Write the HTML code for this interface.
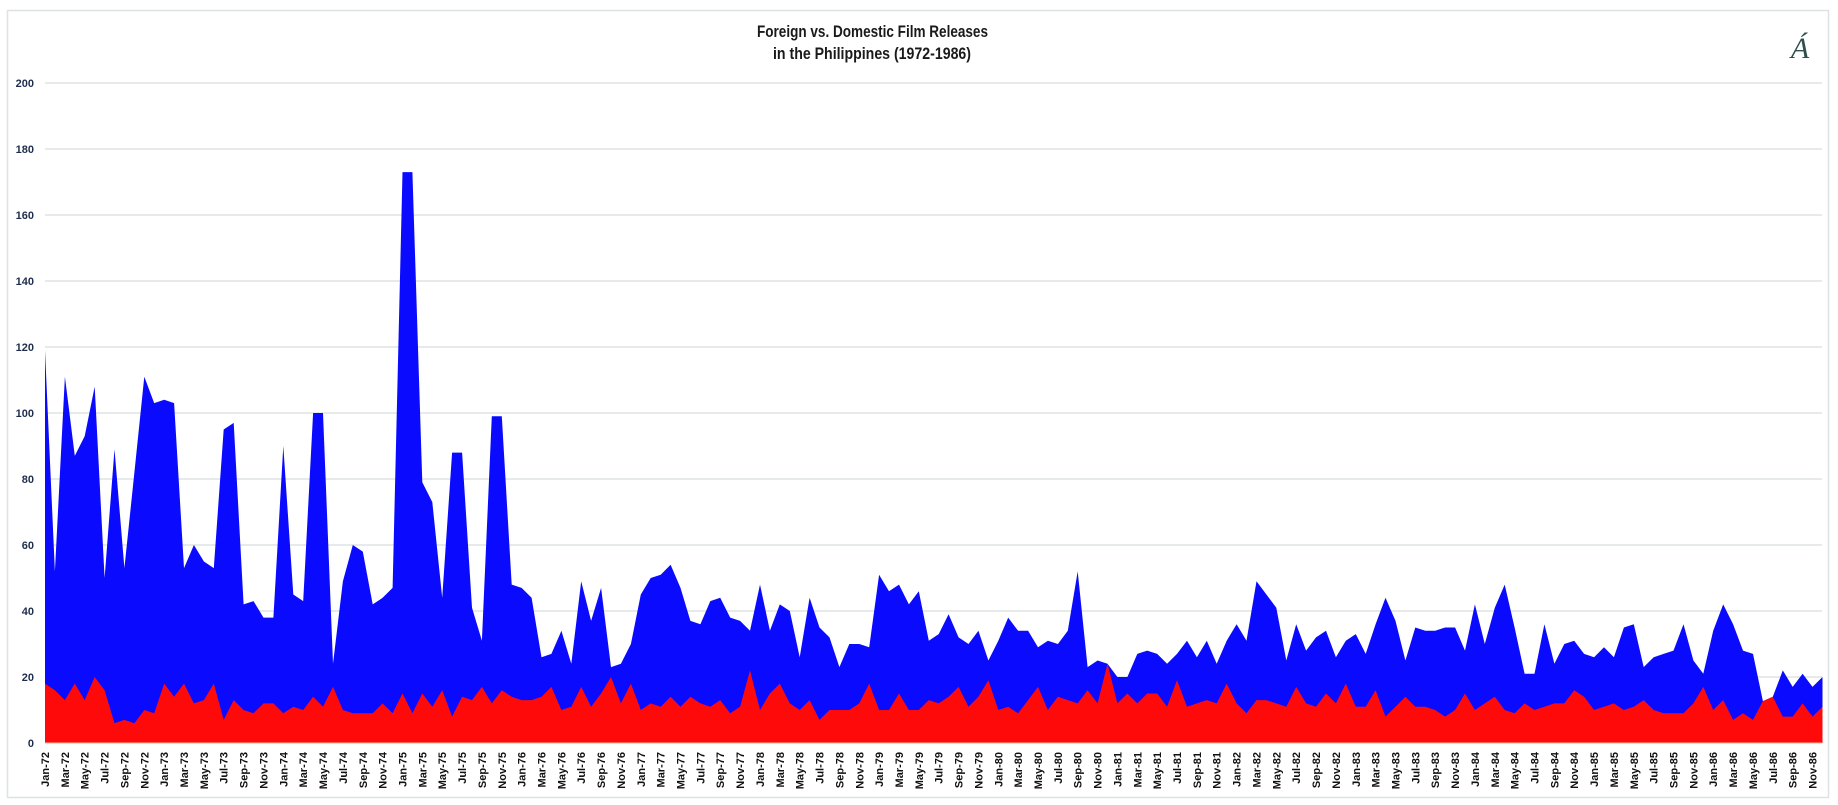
<!DOCTYPE html>
<html><head><meta charset="utf-8"><style>
html,body{margin:0;padding:0;background:#fff;}
svg{display:block;font-family:"Liberation Sans",Arial,sans-serif;}
</style></head><body>
<svg id="c" width="1838" height="805" xmlns="http://www.w3.org/2000/svg">
<rect x="7.5" y="10.5" width="1821" height="787" fill="#fff" stroke="#dde2e2" stroke-width="1.5"/>
<text x="757" y="37" font-size="17" font-weight="bold" fill="#1a1a1a" textLength="231" lengthAdjust="spacingAndGlyphs">Foreign vs. Domestic Film Releases</text>
<text x="773" y="59" font-size="17" font-weight="bold" fill="#1a1a1a" textLength="198" lengthAdjust="spacingAndGlyphs">in the Philippines (1972-1986)</text>
<text x="1800" y="58" text-anchor="middle" font-size="30" font-style="italic" font-family="Liberation Serif,serif" fill="#2f4f4f">Á</text>
<g id="grid"></g><g id="areas"></g><g id="labels"></g>
</svg>
<script>
var tot=[119,52,111,87,93,108,50,89,53,82,111,103,
104,103,53,60,55,53,95,97,42,43,38,38,
90,45,43,100,100,24,49,60,58,42,44,47,
173,173,79,73,44,88,88,41,31,99,99,48,
47,44,26,27,34,24,49,37,47,23,24,30,
45,50,51,54,47,37,36,43,44,38,37,34,
48,34,42,40,26,44,35,32,23,30,30,29,
51,46,48,42,46,31,33,39,32,30,34,25,
31,38,34,34,29,31,30,34,52,23,25,24,
20,20,27,28,27,24,27,31,26,31,24,31,
36,31,49,45,41,25,36,28,32,34,26,31,
33,27,36,44,37,25,35,34,34,35,35,28,
42,30,41,48,35,21,21,36,24,30,31,27,
26,29,26,35,36,23,26,27,28,36,25,21,
34,42,36,28,27,12.7,14,22,17,21,17,20];
var dom=[18,16,13,18,13,20,16,6,7,6,10,9,
18,14,18,12,13,18,7,13,10,9,12,12,
9,11,10,14,11,17,10,9,9,9,12,9,
15,9,15,11,16,8,14,13,17,12,16,14,
13,13,14,17,10,11,17,11,15,20,12,18,
10,12,11,14,11,14,12,11,13,9,11,22,
10,15,18,12,10,13,7,10,10,10,12,18,
10,10,15,10,10,13,12,14,17,11,14,19,
10,11,9,13,17,10,14,13,12,16,12,24,
12,15,12,15,15,11,19,11,12,13,12,18,
12,9,13,13,12,11,17,12,11,15,12,18,
11,11,16,8,11,14,11,11,10,8,10,15,
10,12,14,10,9,12,10,11,12,12,16,14,
10,11,12,10,11,13,10,9,9,9,12,17,
10,13,7,9,7,12.7,14,8,8,12,8,11];
var NS="http://www.w3.org/2000/svg";
function X(i){return 45+9.93*i;}
function Y(v){return 743-3.3*v;}
function el(t,a,p,txt){var e=document.createElementNS(NS,t);for(var k in a)e.setAttribute(k,a[k]);if(txt!=null)e.textContent=txt;p.appendChild(e);return e;}
var g=document.getElementById('grid');
for(var v=0;v<=200;v+=20){
 if(v>0) el('line',{x1:45,x2:1822,y1:Y(v),y2:Y(v),stroke:'#dfe3e3','stroke-width':1.5},g);
 el('text',{x:34,y:Y(v)+4,'text-anchor':'end','font-size':11,'font-weight':'bold',fill:'#1f2d4d'},g,String(v));
}
var a=document.getElementById('areas');
function poly(arr,col){var s=X(0)+','+Y(0);for(var i=0;i<arr.length;i++)s+=' '+X(i).toFixed(1)+','+Y(arr[i]).toFixed(1);s+=' '+X(arr.length-1).toFixed(1)+','+Y(0);el('polygon',{points:s,fill:col},a);}
poly(tot,'#0a0aff');poly(dom,'#ff0a0a');
el('line',{x1:45,x2:1822,y1:743,y2:743,stroke:'#e0c0a0','stroke-width':1},a);
var L=document.getElementById('labels');
var mn=['Jan','Feb','Mar','Apr','May','Jun','Jul','Aug','Sep','Oct','Nov','Dec'];
for(var i=0;i<180;i+=2){var yr=72+Math.floor(i/12);var x=X(i)+4;
 el('text',{x:0,y:0,transform:'translate('+x.toFixed(1)+',752) rotate(-90)','text-anchor':'end','font-size':11,'font-weight':'bold',fill:'#111'},L,mn[i%12]+'-'+yr);}
</script>
</body></html>
